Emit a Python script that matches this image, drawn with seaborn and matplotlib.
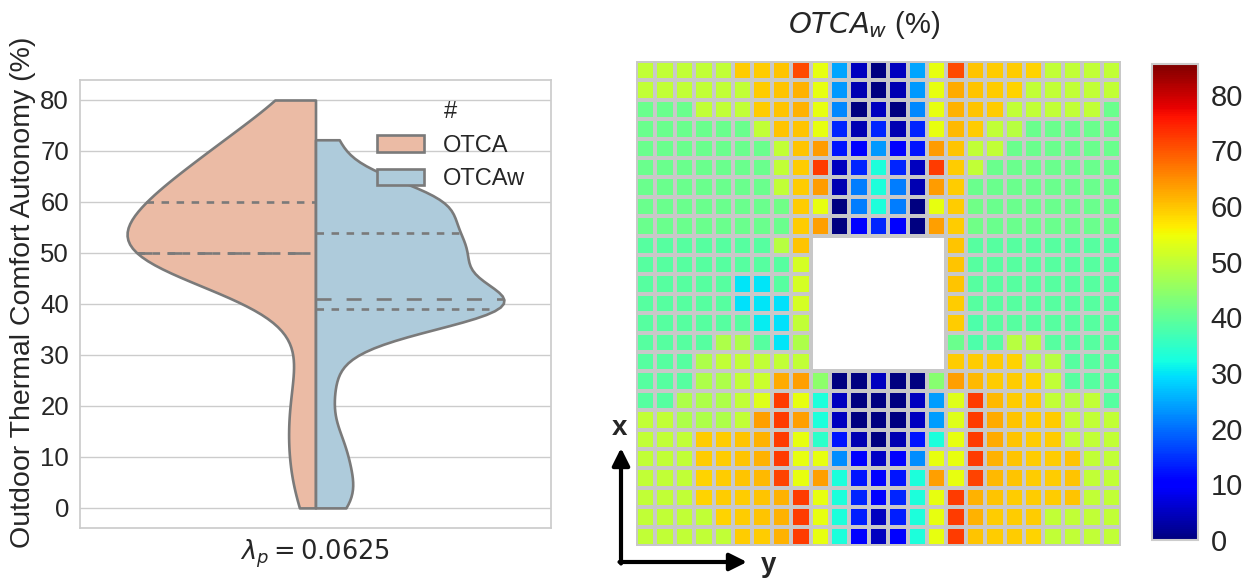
import numpy as np
import pandas as pd
import matplotlib
matplotlib.use("Agg")
import matplotlib.pyplot as plt
from matplotlib.colors import to_rgba
from matplotlib.patches import FancyArrowPatch
import seaborn as sns

nan = np.nan

# OTCA_w of every grid cell (%), 25 x 25, first row at the top; NaN = building footprint
otcaw_map = [
    [50, 50, 50, 50, 50, 59.4, 59.4, 60, 71, 54, 24.7, 5, 0, 5, 24.7, 54, 71, 60, 59.4, 59.4, 58.6, 50, 50, 50, 50],
    [50, 50, 50, 50, 50, 50, 59.4, 60, 61.5, 54, 23.4, 4, 0, 4, 23.4, 54, 62.2, 60, 59.4, 58.6, 50, 50, 50, 50, 50],
    [40.8, 40.8, 40.8, 50, 50, 50, 59.4, 60, 61.5, 54, 22.3, 0, 5, 0, 22.3, 54, 61.5, 60, 59.4, 50, 50, 50, 50, 50, 40.8],
    [40.8, 40.8, 40.8, 40.8, 40.8, 40.8, 50, 60, 60, 54, 14, 4, 14, 4, 14, 54, 60.8, 59.4, 50, 49, 40.8, 40.8, 40.8, 40.8, 40.8],
    [40.8, 40.8, 40.8, 40.8, 40.8, 40.8, 40.8, 50, 60, 63.6, 12.5, 10, 23.4, 10, 12.5, 63.6, 60, 50, 50, 40.8, 40.8, 40.8, 40.8, 40.8, 40.8],
    [40.8, 40.8, 40.8, 40.8, 40.8, 40.8, 40.8, 50, 59.4, 72.2, 5, 14, 33, 14, 5, 72.2, 59.4, 50, 40.8, 40.8, 40.8, 40.8, 40.8, 40.8, 40.8],
    [40.8, 40.8, 40.8, 40.8, 40.8, 40.8, 40.8, 50, 59.4, 63.6, 4, 21.3, 33, 21.3, 4, 63.6, 59.4, 40.8, 40.8, 40.8, 40.8, 40.8, 40.8, 40.8, 40.8],
    [40.8, 40.8, 40.8, 40.8, 40.8, 40.8, 40.8, 41.5, 59.4, 54, 0, 21.3, 33, 21.3, 0, 54, 59.4, 41.5, 40.8, 40.8, 40.8, 40.8, 40.8, 40.8, 40.8],
    [40.8, 40.8, 40.8, 40.8, 40.8, 40.8, 40.8, 40.8, 59.4, 63.3, 0, 10, 14, 10, 0, 63.3, 59.4, 41.5, 40.8, 40.8, 40.8, 40.8, 40.8, 40.8, 40.8],
    [39, 39, 39, 39, 39, 39, 39, 49, 60, nan, nan, nan, nan, nan, nan, nan, 60, 39, 39, 39, 39, 39, 39, 39, 39],
    [39, 39, 39, 39, 39, 39, 39, 39, 52, nan, nan, nan, nan, nan, nan, nan, 60, 39, 39, 39, 39, 39, 39, 39, 39],
    [39, 39, 39, 39, 39, 30, 30, 39, 52, nan, nan, nan, nan, nan, nan, nan, 60, 39, 39, 39, 39, 39, 39, 39, 39],
    [39, 39, 39, 39, 39, 29.5, 30, 29.5, 52, nan, nan, nan, nan, nan, nan, nan, 59.4, 39, 39, 39, 39, 39, 39, 39, 39],
    [39, 39, 39, 39, 39, 39, 30.5, 29.5, 50, nan, nan, nan, nan, nan, nan, nan, 59.4, 38, 39, 39, 39, 39, 39, 39, 39],
    [39, 39, 39, 39, 48, 48, 39, 30, 48, nan, nan, nan, nan, nan, nan, nan, 41, 38, 39, 49, 49, 39, 39, 39, 39],
    [39, 39, 39, 48, 50, 50, 50, 50, 50, nan, nan, nan, nan, nan, nan, nan, 59.4, 59.4, 59.4, 58.6, 49, 49, 39, 39, 39],
    [39, 39, 39, 48, 48, 50, 51, 62.2, 63.3, 44.5, 0, 0, 5, 0, 0, 44, 63.3, 60.8, 59.4, 59.4, 58.6, 50, 39, 39, 39],
    [39, 39, 48, 48, 48, 50, 53, 72.2, 54, 33, 5, 0, 0, 0, 5, 24, 53, 72.2, 60.8, 59.4, 59.4, 50, 49, 50, 39],
    [50, 50, 48, 48, 48, 50, 63.3, 72.2, 63.3, 33, 5, 0, 0, 0, 5, 24, 53, 72.2, 62.2, 60, 59.4, 59.4, 50, 50, 50],
    [50, 50, 50, 59.4, 59.4, 60, 61.5, 72.2, 54, 34.7, 12.5, 4, 0, 4, 12.5, 33, 54, 72.2, 62.2, 60, 59.4, 59.4, 50, 50, 50],
    [50, 50, 50, 59.4, 59.4, 60, 61.5, 72.2, 54, 54, 22.6, 10, 5.3, 10, 22.6, 54, 54, 72.2, 61.5, 60, 59.4, 59.4, 60, 50, 50],
    [50, 50, 50, 58.6, 59.4, 60, 60.8, 71.6, 54, 63.3, 33, 12.5, 10, 12.5, 33, 63.3, 54, 71.6, 60.8, 60, 59.4, 59.4, 60, 50, 50],
    [50, 50, 50, 58.6, 59.4, 59.4, 60, 61.5, 72.2, 54, 33, 14, 10, 14, 33, 54, 72.2, 61.5, 60, 59.4, 59.4, 59.4, 60, 50, 50],
    [50, 50, 50, 50, 58.6, 59.4, 60, 61.5, 72.2, 54, 33, 13.3, 5, 13.3, 33, 54, 72.2, 61.5, 59.4, 59.4, 59.4, 50, 50, 50, 50],
    [50, 50, 50, 50, 50, 59.4, 59.4, 61.5, 72.2, 54, 33, 10, 5, 10, 33, 54, 72.2, 60, 59.4, 59.4, 58.6, 50, 50, 50, 50],
]

# OTCA (no wind) distribution over the same cells: value (%) and number of cells
otca_values = [0, 3, 6, 9, 12, 15, 18, 21, 24, 27, 30, 33, 36,
               39, 42, 44, 46, 48, 50, 52, 54, 56, 58, 60,
               62, 64, 66, 68, 70, 72, 74, 76, 78, 80]
otca_counts = [8, 7, 6, 7, 7, 8, 8, 7, 6, 5, 4, 4, 4,
               4, 5, 8, 17, 28, 146, 10, 10, 10, 10, 104,
               11, 14, 17, 20, 21, 20, 16, 11, 8, 5]

series_names = ["OTCA", "OTCAw"]
series_colors = ["#ebbba5", "#aecbdb"]
case_label = r"$\lambda_p = 0.0625$"
colorbar_ticks = [0, 10, 20, 30, 40, 50, 60, 70, 80]
color_max = 85.5

sns.set_theme(style="whitegrid")
plt.rcParams["font.family"] = ["Liberation Sans", "DejaVu Sans"]

W, H = 1259, 580
fig = plt.figure(figsize=(W / 100, H / 100), dpi=100)


def px_axes(x0, y0, x1, y1):
    return fig.add_axes([x0 / W, 1 - y1 / H, (x1 - x0) / W, (y1 - y0) / H])


def fig_pt(x, y):
    return (x / W, 1 - y / H)


ax = px_axes(80, 79.6, 551, 528.3)
axh = px_axes(636, 61, 1121, 546)
cax = px_axes(1152, 64, 1198, 540)

# ---- split violin: OTCA vs OTCA_w ----
grid = np.array(otcaw_map, dtype=float)
otcaw_samples = grid[~np.isnan(grid)]
otca_samples = np.repeat(otca_values, otca_counts)

df_a = pd.DataFrame({"case": case_label, "#": series_names[0], "value": otca_samples})
df_w = pd.DataFrame({"case": case_label, "#": series_names[1], "value": otcaw_samples})

edge = "#7a7a7a"
lw = 1.9
common = dict(x="case", y="value", hue="#", hue_order=series_names,
              palette=series_colors, split=True, inner="quart", cut=0,
              density_norm="width", saturation=1, linewidth=lw,
              linecolor=edge, dodge=True, ax=ax)
sns.violinplot(data=df_a, bw_adjust=1.45, legend=True, **common)
sns.violinplot(data=df_w, legend=False, **common)

# quartiles dotted, median dashed
for i, line in enumerate(ax.lines):
    if i % 3 == 1:
        line.set_dashes([3 * lw, 3 * lw])
    else:
        line.set_dashes([1.5 * lw, 1.5 * lw])

ax.set_xlim(-0.5, 0.5)
ax.set_xlabel("")
ax.set_ylabel("Outdoor Thermal Comfort Autonomy (%)", fontsize=20.5)
ax.yaxis.set_label_coords(-0.094, 0.525)
ax.set_yticks(range(0, 81, 10))
ax.tick_params(axis="y", labelsize=18.5, pad=2)
ax.tick_params(axis="x", labelsize=18.5, pad=1)
sns.move_legend(ax, "upper right", bbox_to_anchor=(0.99, 1.0), frameon=False,
                title="#", fontsize=17, title_fontsize=17)

# ---- OTCA_w map ----
sns.heatmap(grid, ax=axh, cbar_ax=cax, cmap="jet", vmin=0, vmax=color_max,
            linewidths=1.5, linecolor="#c8c8c8",
            xticklabels=False, yticklabels=False)
axh.grid(False)
mesh = axh.collections[0]
edge_rgba = np.tile(to_rgba("#c8c8c8"), (grid.size, 1))
edge_rgba[np.isnan(grid).ravel()] = (1, 1, 1, 0)
mesh.set_edgecolor(edge_rgba)

axh.set_title(r"$OTCA_w$ (%)", fontsize=21, pad=20, x=0.47)
cbar = mesh.colorbar
cbar.set_ticks(colorbar_ticks)
cbar.ax.tick_params(labelsize=21, length=0, pad=9)
cbar.outline.set_visible(True)
cbar.outline.set_edgecolor("#cccccc")
cbar.outline.set_linewidth(1.5)

# orientation arrows
for tip in [(621, 448), (747, 562)]:
    start = (621, 563.5) if tip[0] == 621 else (619.5, 562)
    fig.add_artist(FancyArrowPatch(fig_pt(*start), fig_pt(*tip), transform=fig.transFigure,
                                   arrowstyle="-|>", mutation_scale=26, lw=3,
                                   color="black", shrinkA=0, shrinkB=0))
fig.text(*fig_pt(620, 428), "x", ha="center", va="center", fontsize=20, fontweight="bold")
fig.text(*fig_pt(769, 565), "y", ha="center", va="center", fontsize=20, fontweight="bold")

fig.savefig("out.png", dpi=100, facecolor="white")
